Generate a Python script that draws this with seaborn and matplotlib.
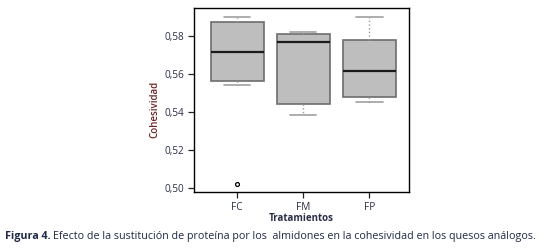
import pandas as pd
import seaborn as sns
import matplotlib.pyplot as plt
from matplotlib.ticker import FuncFormatter

# Valores de cohesividad (por tratamiento)
fc = [0.502, 0.5544, 0.5561, 0.564, 0.5717, 0.580, 0.5874, 0.589, 0.590]
fm = [0.5384, 0.542, 0.5444, 0.560, 0.5768, 0.579, 0.5809, 0.5815, 0.5823]
fp = [0.5454, 0.547, 0.5481, 0.555, 0.5616, 0.570, 0.5779, 0.585, 0.590]
tratamientos = ['FC', 'FM', 'FP']
y_ticks = [0.50, 0.52, 0.54, 0.56, 0.58]

datos = pd.DataFrame({
    'Tratamientos': ['FC'] * len(fc) + ['FM'] * len(fm) + ['FP'] * len(fp),
    'Cohesividad': fc + fm + fp,
})

sns.set_style('white')
plt.rcParams['font.family'] = ['Open Sans', 'DejaVu Sans']

fig = plt.figure(figsize=(5.59, 2.48), dpi=100)
ax = fig.add_axes([0.347, 0.226, 0.385, 0.742])

sns.boxplot(data=datos, x='Tratamientos', y='Cohesividad', order=tratamientos,
            color='#bebebe', linecolor='#6d6d6d', linewidth=1.2, width=0.8,
            fliersize=2.8, ax=ax,
            boxprops={'facecolor': '#bebebe', 'edgecolor': '#6d6d6d'},
            medianprops={'color': '#1a1a1a', 'linewidth': 1.6},
            whiskerprops={'color': '#9a9a9a', 'linestyle': ':', 'linewidth': 1.0},
            capprops={'color': '#a0a0a0', 'linewidth': 1.2},
            flierprops={'marker': 'o', 'markerfacecolor': 'white',
                        'markeredgecolor': 'black', 'markeredgewidth': 0.9})

ax.set_xlim(-0.65, 2.6)
ax.set_ylim(0.498, 0.5947)
ax.set_yticks(y_ticks)
ax.yaxis.set_major_formatter(FuncFormatter(lambda v, p: f'{v:.2f}'.replace('.', ',')))
for s in ax.spines.values():
    s.set_color('black')
    s.set_linewidth(1.0)
ax.tick_params(axis='both', which='both', length=4, width=0.9, color='#222222',
               labelsize=7.2, labelcolor='#2a2f45', left=True, bottom=True, pad=3)
ax.set_xlabel('Tratamientos', fontsize=7, fontweight='bold', color='#2a2f45', labelpad=0)
ax.set_ylabel('Cohesividad', fontsize=7, fontweight='semibold', color='#6e2525', labelpad=6)
ax.yaxis.set_label_coords(-0.155, 0.45)

fig.text(0.009, 0.035, 'Figura 4.', fontsize=7.75, fontweight='bold', color='#1f2a44')
fig.text(0.094, 0.035,
         'Efecto de la sustitución de proteína por los  almidones en la cohesividad en los quesos análogos.',
         fontsize=7.75, color='#1f2a44')

fig.savefig('out.png', dpi=100)
